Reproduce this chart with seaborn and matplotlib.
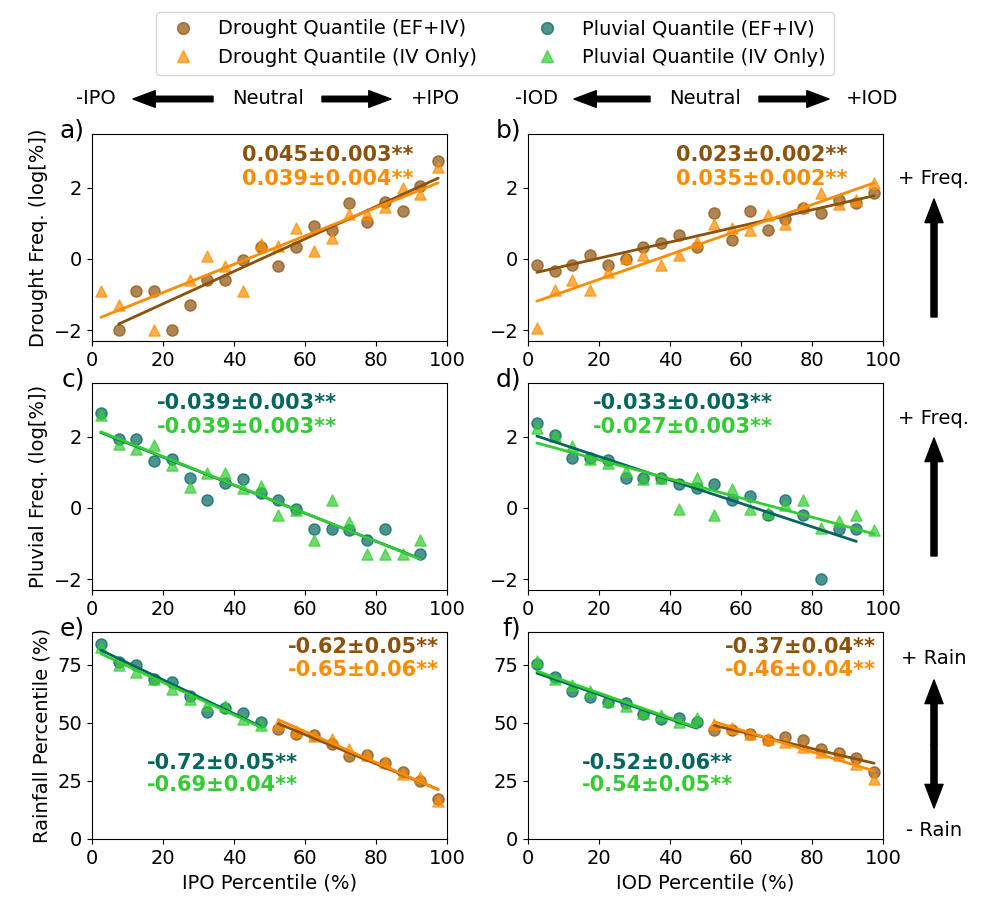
# Drought / pluvial frequency and rainfall percentile vs IPO and IOD phase

import numpy as np
import matplotlib.pyplot as plt
import seaborn as sns
from matplotlib.lines import Line2D
from matplotlib.patches import FancyArrowPatch

nan = np.nan

# bin centres of the climate-mode percentile (%)
pct = [2.5, 7.5, 12.5, 17.5, 22.5, 27.5, 32.5, 37.5, 42.5, 47.5,
       52.5, 57.5, 62.5, 67.5, 72.5, 77.5, 82.5, 87.5, 92.5, 97.5]
pct_low = pct[:10]
pct_high = pct[10:]

# a) drought frequency vs IPO
a_drought_ef = [nan, -2.0, -0.89, -0.89, -2.0, -1.30, -0.60, -0.60, -0.03, 0.33,
                -0.20, 0.33, 0.92, 0.80, 1.56, 1.03, 1.60, 1.33, 2.03, 2.73]
a_drought_iv = [-0.91, -1.30, nan, -2.0, nan, -0.59, 0.08, -0.19, -0.89, 0.42,
                0.35, 0.87, 0.21, 0.60, 1.27, 1.26, 1.45, 2.0, 1.83, 2.58]

# b) drought frequency vs IOD
b_drought_ef = [-0.17, -0.35, -0.17, 0.11, -0.17, -0.01, 0.34, 0.44, 0.67, 0.34,
                1.29, 0.53, 1.34, 0.81, 1.13, 1.44, 1.29, 1.66, 1.57, 1.86]
b_drought_iv = [-1.93, -0.87, -0.59, -0.87, -0.37, 0.02, 0.11, -0.17, 0.11, 0.48,
                0.98, 0.88, 0.81, 1.23, 0.98, 1.46, 1.86, 1.55, 1.66, 2.13]

# c) pluvial frequency vs IPO
c_pluvial_ef = [2.66, 1.92, 1.92, 1.32, 1.36, 0.85, 0.23, 0.70, 0.80, 0.42,
                0.22, -0.02, -0.60, -0.60, -0.63, -0.91, -0.60, nan, -1.29, nan]
c_pluvial_iv = [2.60, 1.79, 1.64, 1.77, 1.20, 0.59, 0.97, 0.99, 0.57, 0.61,
                -0.21, -0.05, -0.89, 0.22, -0.39, -1.29, -1.29, -1.29, -0.91, nan]

# d) pluvial frequency vs IOD
d_pluvial_ef = [2.37, 2.05, 1.41, 1.39, 1.33, 0.85, 0.85, 0.85, 0.66, 0.56,
                0.66, 0.23, 0.33, -0.19, 0.21, -0.19, -2.0, -0.58, -0.58, nan]
d_pluvial_iv = [2.23, 2.02, 1.74, 1.36, 1.27, 1.03, 0.80, 0.85, -0.02, 0.85,
                -0.19, 0.52, -0.02, -0.14, 0.09, 0.23, -0.56, -0.36, -0.19, -0.61]

# e) rainfall percentile vs IPO (pluvial half / drought half)
e_pluvial_ef = [83.9, 76.3, 74.9, 68.9, 67.4, 61.3, 54.8, 56.3, 54.1, 50.1]
e_pluvial_iv = [82.7, 74.9, 71.9, 68.9, 64.7, 60.2, 57.7, 57.0, 51.6, 49.0]
e_drought_ef = [47.5, 45.3, 44.9, 41.0, 35.9, 36.2, 32.7, 28.9, 25.0, 17.3]
e_drought_iv = [49.3, 46.4, 44.3, 43.2, 38.8, 36.2, 33.3, 27.9, 26.5, 16.3]

# f) rainfall percentile vs IOD
f_pluvial_ef = [75.4, 69.8, 63.6, 61.0, 59.0, 58.5, 53.8, 51.6, 52.0, 50.1]
f_pluvial_iv = [76.6, 68.6, 66.0, 63.6, 59.2, 57.1, 54.2, 53.5, 50.1, 52.0]
f_drought_ef = [46.7, 46.7, 45.2, 42.6, 43.8, 42.6, 38.6, 37.1, 34.7, 28.9]
f_drought_iv = [49.6, 47.7, 45.2, 42.9, 41.5, 39.7, 37.6, 36.1, 32.2, 25.6]

# trend labels
trend_text = {
    'a': ['0.045\u00b10.003**', '0.039\u00b10.004**'],
    'b': ['0.023\u00b10.002**', '0.035\u00b10.002**'],
    'c': ['-0.039\u00b10.003**', '-0.039\u00b10.003**'],
    'd': ['-0.033\u00b10.003**', '-0.027\u00b10.003**'],
    'e_dry': ['-0.62\u00b10.05**', '-0.65\u00b10.06**'],
    'e_wet': ['-0.72\u00b10.05**', '-0.69\u00b10.04**'],
    'f_dry': ['-0.37\u00b10.04**', '-0.46\u00b10.04**'],
    'f_wet': ['-0.52\u00b10.06**', '-0.54\u00b10.05**'],
}

BROWN = '#8c510a'
ORANGE = 'darkorange'
TEAL = '#01665e'
GREEN = 'limegreen'

sns.set_style('ticks')
plt.rcParams['font.family'] = ['DejaVu Sans']
plt.rcParams['font.size'] = 14
plt.rcParams['xtick.labelsize'] = 14
plt.rcParams['ytick.labelsize'] = 14
plt.rcParams['axes.labelsize'] = 14
plt.rcParams['axes.edgecolor'] = 'black'
plt.rcParams['axes.labelcolor'] = 'black'
plt.rcParams['text.color'] = 'black'
plt.rcParams['xtick.color'] = 'black'
plt.rcParams['ytick.color'] = 'black'

fig = plt.figure(figsize=(9.86, 9.06), dpi=100)
W, H = 986, 906


def add_ax(left, top, right, bottom):
    return fig.add_axes([left / W, 1 - bottom / H, (right - left) / W, (bottom - top) / H])


ax_a = add_ax(92, 134, 447, 341)
ax_b = add_ax(528, 134, 883, 341)
ax_c = add_ax(92, 383, 447, 590)
ax_d = add_ax(528, 383, 883, 590)
ax_e = add_ax(92, 632, 447, 839)
ax_f = add_ax(528, 632, 883, 839)


def pair(ax, x, y_ef, y_iv, c_ef, c_iv):
    # scatter points then linear fits (EF+IV circles, IV-only triangles)
    sns.scatterplot(x=x, y=y_ef, marker='o', color=c_ef, alpha=0.7, s=65,
                    edgecolor=c_ef, linewidth=1, ax=ax, zorder=2)
    sns.scatterplot(x=x, y=y_iv, marker='^', color=c_iv, alpha=0.7, s=65,
                    edgecolor=c_iv, linewidth=1, ax=ax, zorder=3)
    sns.regplot(x=x, y=y_ef, scatter=False, ci=None, color=c_ef,
                line_kws={'lw': 2, 'zorder': 4}, ax=ax)
    sns.regplot(x=x, y=y_iv, scatter=False, ci=None, color=c_iv,
                line_kws={'lw': 2, 'zorder': 5}, ax=ax)


pair(ax_a, pct, a_drought_ef, a_drought_iv, BROWN, ORANGE)
pair(ax_b, pct, b_drought_ef, b_drought_iv, BROWN, ORANGE)
pair(ax_c, pct, c_pluvial_ef, c_pluvial_iv, TEAL, GREEN)
pair(ax_d, pct, d_pluvial_ef, d_pluvial_iv, TEAL, GREEN)
pair(ax_e, pct_low, e_pluvial_ef, e_pluvial_iv, TEAL, GREEN)
pair(ax_e, pct_high, e_drought_ef, e_drought_iv, BROWN, ORANGE)
pair(ax_f, pct_low, f_pluvial_ef, f_pluvial_iv, TEAL, GREEN)
pair(ax_f, pct_high, f_drought_ef, f_drought_iv, BROWN, ORANGE)

for ax in [ax_a, ax_b, ax_c, ax_d]:
    ax.set_ylim(-2.3, 3.5)
    ax.set_yticks([-2, 0, 2])
for ax in [ax_e, ax_f]:
    ax.set_ylim(0, 89)
    ax.set_yticks([0, 25, 50, 75])
for ax in [ax_a, ax_b, ax_c, ax_d, ax_e, ax_f]:
    ax.set_xlim(0, 100)
    ax.set_xticks([0, 20, 40, 60, 80, 100])
    ax.set_xlabel('')
    ax.set_ylabel('')
    for sp in ax.spines.values():
        sp.set_visible(True)
        sp.set_color('black')

ax_a.set_ylabel('Drought Freq. (log[%])')
ax_c.set_ylabel('Pluvial Freq. (log[%])')
ax_e.set_ylabel('Rainfall Percentile (%)')
ax_e.set_xlabel('IPO Percentile (%)')
ax_f.set_xlabel('IOD Percentile (%)')

# panel letters
for ax, lab in zip([ax_a, ax_b, ax_c, ax_d, ax_e, ax_f], ['a)', 'b)', 'c)', 'd)', 'e)', 'f)']):
    ax.text(-0.02, 0.985, lab, transform=ax.transAxes, fontsize=18,
            ha='right', va='baseline')


def two_lines(ax, x, y1, y2, texts, c1, c2, ha):
    ax.text(x, y1, texts[0], color=c1, fontsize=15, fontweight='bold',
            ha=ha, va='center', transform=ax.transAxes)
    ax.text(x, y2, texts[1], color=c2, fontsize=15, fontweight='bold',
            ha=ha, va='center', transform=ax.transAxes)


two_lines(ax_a, 0.905, 0.899, 0.783, trend_text['a'], BROWN, ORANGE, 'right')
two_lines(ax_b, 0.90, 0.899, 0.783, trend_text['b'], BROWN, ORANGE, 'right')
two_lines(ax_c, 0.183, 0.903, 0.787, trend_text['c'], TEAL, GREEN, 'left')
two_lines(ax_d, 0.183, 0.903, 0.787, trend_text['d'], TEAL, GREEN, 'left')
two_lines(ax_e, 0.977, 0.928, 0.816, trend_text['e_dry'], BROWN, ORANGE, 'right')
two_lines(ax_e, 0.155, 0.367, 0.261, trend_text['e_wet'], TEAL, GREEN, 'left')
two_lines(ax_f, 0.98, 0.928, 0.816, trend_text['f_dry'], BROWN, ORANGE, 'right')
two_lines(ax_f, 0.152, 0.367, 0.261, trend_text['f_wet'], TEAL, GREEN, 'left')

# legend
handles = [
    Line2D([], [], ls='', marker='o', ms=8.5, color=BROWN, alpha=0.7),
    Line2D([], [], ls='', marker='^', ms=8.5, color=ORANGE, alpha=0.7),
    Line2D([], [], ls='', marker='o', ms=8.5, color=TEAL, alpha=0.7),
    Line2D([], [], ls='', marker='^', ms=8.5, color=GREEN, alpha=0.7),
]
labels = ['Drought Quantile (EF+IV)', 'Drought Quantile (IV Only)',
          'Pluvial Quantile (EF+IV)', 'Pluvial Quantile (IV Only)']
fig.legend(handles, labels, loc='upper center', bbox_to_anchor=(0.502, 0.998),
           ncol=2, fontsize=14, columnspacing=2.6, handletextpad=0.8)


# phase arrows and labels (figure pixel positions)
def fx(px):
    return px / W


def fy(py):
    return 1 - py / H


def arrow(x0, y0, x1, y1, hl=0.85, hw=0.65, tw=0.22):
    style = 'simple,head_length=%g,head_width=%g,tail_width=%g' % (hl, hw, tw)
    fig.add_artist(FancyArrowPatch((fx(x0), fy(y0)), (fx(x1), fy(y1)),
                                   arrowstyle=style, mutation_scale=20,
                                   color='black', transform=fig.transFigure,
                                   shrinkA=0, shrinkB=0))


row_y = 99
for x, s in [(96, '-IPO'), (268, 'Neutral'), (435, '+IPO'),
             (536, '-IOD'), (705, 'Neutral'), (872, '+IOD')]:
    fig.text(fx(x), fy(row_y), s, ha='center', va='center', fontsize=14)
for x0, x1 in [(213, 133), (322, 391), (650, 574), (759, 829)]:
    arrow(x0, row_y, x1, row_y, hl=0.8, hw=0.6, tw=0.2)

side_x = 934
fig.text(fx(side_x), fy(179), '+ Freq.', ha='center', va='center', fontsize=14)
arrow(side_x, 317, side_x, 199)
fig.text(fx(side_x), fy(418), '+ Freq.', ha='center', va='center', fontsize=14)
arrow(side_x, 556, side_x, 438)
fig.text(fx(side_x), fy(658), '+ Rain', ha='center', va='center', fontsize=14)
# double-headed arrow: shaft plus two heads
fig.add_artist(Line2D([fx(side_x), fx(side_x)], [fy(698), fy(790)], lw=4.4,
                      color='black', solid_capstyle='butt', transform=fig.transFigure))
arrow(side_x, 745, side_x, 680)
arrow(side_x, 745, side_x, 808)
fig.text(fx(side_x), fy(830), '- Rain', ha='center', va='center', fontsize=14)

fig.savefig('out.png', dpi=100)
